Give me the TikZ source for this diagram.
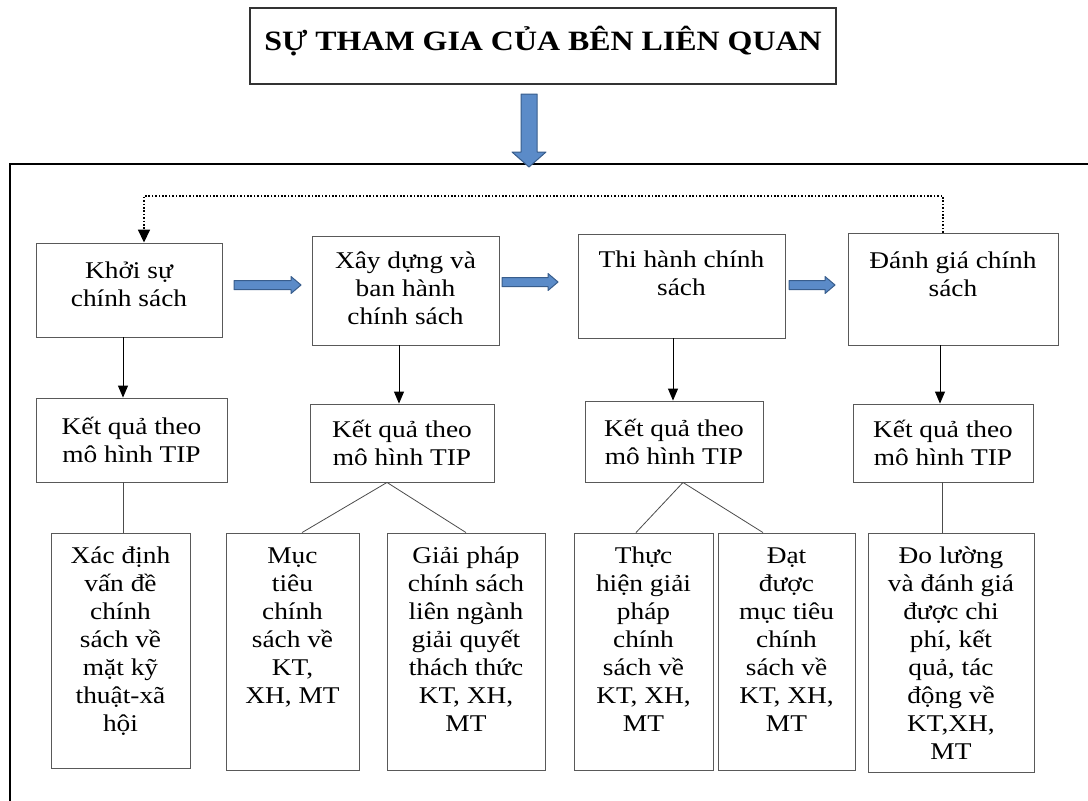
\documentclass[tikz,border=0pt]{standalone}
\usepackage{fontspec}
\setmainfont[FakeStretch=1.14]{Liberation Serif}
\usetikzlibrary{arrows.meta,calc}
\definecolor{bluefill}{RGB}{91,139,200}
\definecolor{blueline}{RGB}{56,93,140}
\newcommand\mystrut{\rule{0pt}{20pt}}
\newcommand\harrow[2]{\filldraw[blockarr] ($(#1)+(0,-4.5)$) -- ($(#2)+(-10,-4.5)$) -- ($(#2)+(-10,-8.5)$) -- (#2) -- ($(#2)+(-10,8.5)$) -- ($(#2)+(-10,4.5)$) -- ($(#1)+(0,4.5)$) -- cycle;}
\begin{document}
\begin{tikzpicture}[x=1pt,y=-1pt,
  box/.style={draw=black!65,line width=0.9pt,inner sep=0pt},
  txt/.style={align=center,inner sep=0pt,font=\fontsize{24}{28}\selectfont},
  blockarr/.style={fill=bluefill,draw=blueline,line width=1pt,line join=round},
  downarr/.style={draw=black,line width=0.9pt,-{Triangle[width=10pt,length=12pt]}},
  dotarr/.style={draw=black,line width=1.6pt,dash pattern=on 1.6pt off 1.8pt,-{Triangle[width=12pt,length=13pt]}},
  link/.style={draw=black!70,line width=0.8pt}]
\useasboundingbox (0,0) rectangle (1088,801);
\fill[white] (0,0) rectangle (1088,801);

% title
\node[draw=black!80,line width=1.4pt,inner sep=0pt,minimum width=586pt,minimum height=76pt] (title) at (543,46) {};
\node[font=\bfseries\fontsize{28}{32}\selectfont,inner sep=0pt] (titletext) at (543,41) {SỰ THAM GIA CỦA BÊN LIÊN QUAN};

% big frame
\draw[line width=2pt] (10,801) -- (10,164) -- (1088,164);

% big blue arrow
\coordinate (ba1) at (529,94);
\coordinate (ba2) at (529,167);
\filldraw[blockarr] ($(ba1)+(-8,0)$) -- ($(ba1)+(8,0)$) -- ($(ba2)+(8,-15)$) -- ($(ba2)+(17,-15)$) -- (ba2) -- ($(ba2)+(-17,-15)$) -- ($(ba2)+(-8,-15)$) -- cycle;

% row 1 boxes
\node[box,minimum width=186pt,minimum height=94pt] (b1) at (129,290) {};
\node[box,minimum width=187pt,minimum height=109pt] (b2) at (405.5,290.5) {};
\node[box,minimum width=207pt,minimum height=104pt] (b3) at (681.5,286) {};
\node[box,minimum width=210pt,minimum height=112pt] (b4) at (953,289) {};
\node[txt] (t1) at (129,284) {Khởi sự\\chính sách};
\node[txt] (t2) at (405.5,288) {Xây dựng và\\ban hành\\chính sách};
\node[txt] (t3) at (681.5,273) {Thi hành chính\\sách};
\node[txt] (t4) at (953,274) {Đánh giá chính\\sách};

% blue arrows between row 1 boxes
\coordinate (a1s) at (234,285); \coordinate (a1e) at (301,285);
\coordinate (a2s) at (502,282); \coordinate (a2e) at (558,282);
\coordinate (a3s) at (789,285); \coordinate (a3e) at (835,285);
\harrow{a1s}{a1e}
\harrow{a2s}{a2e}
\harrow{a3s}{a3e}

% dotted feedback
\coordinate (dx4) at (943,0);
\coordinate (dx1) at (144,0);
\coordinate (dy) at (0,196);
\draw[dotarr] (b4.north -| dx4) -- (dx4 |- dy) -- (dx1 |- dy) -- (b1.north -| dx1);

% row 2 boxes
\node[box,txt,draw=black!65,line width=0.9pt,minimum width=191pt,minimum height=84pt] (r1) at (131.5,440) {Kết quả theo\\mô hình TIP};
\node[box,txt,draw=black!65,line width=0.9pt,minimum width=184pt,minimum height=78pt] (r2) at (402,443) {Kết quả theo\\mô hình TIP};
\node[box,txt,draw=black!65,line width=0.9pt,minimum width=178pt,minimum height=81pt] (r3) at (674,441.5) {Kết quả theo\\mô hình TIP};
\node[box,txt,draw=black!65,line width=0.9pt,minimum width=180pt,minimum height=78pt] (r4) at (943,443) {Kết quả theo\\mô hình TIP};

% down arrows
\coordinate (x1) at (123,0);
\coordinate (x2) at (399,0);
\coordinate (x3) at (673,0);
\coordinate (x4) at (940,0);
\draw[downarr] (b1.south -| x1) -- (r1.north -| x1);
\draw[downarr] (b2.south -| x2) -- (r2.north -| x2);
\draw[downarr] (b3.south -| x3) -- (r3.north -| x3);
\draw[downarr] (b4.south -| x4) -- (r4.north -| x4);

% row 3 boxes
\node[box,minimum width=139pt,minimum height=235pt] (c1) at (120.5,650.5) {};
\node[box,minimum width=133pt,minimum height=237pt] (c2) at (292.5,651.5) {};
\node[box,minimum width=158pt,minimum height=237pt] (c3) at (466,651.5) {};
\node[box,minimum width=139pt,minimum height=237pt] (c4) at (643.5,651.5) {};
\node[box,minimum width=137pt,minimum height=237pt] (c5) at (786.5,651.5) {};
\node[box,minimum width=166pt,minimum height=239pt] (c6) at (951,652.5) {};
\node[txt,anchor=north] (u1) at (120.5,543) {\mystrut Xác định\\vấn đề\\chính\\sách về\\mặt kỹ\\thuật-xã\\hội};
\node[txt,anchor=north] (u2) at (292.5,543) {\mystrut Mục\\tiêu\\chính\\sách về\\KT,\\XH, MT};
\node[txt,anchor=north] (u3) at (466,543) {\mystrut Giải pháp\\chính sách\\liên ngành\\giải quyết\\thách thức\\KT, XH,\\MT};
\node[txt,anchor=north] (u4) at (643.5,543) {\mystrut Thực\\hiện giải\\pháp\\chính\\sách về\\KT, XH,\\MT};
\node[txt,anchor=north] (u5) at (786.5,543) {\mystrut Đạt\\được\\mục tiêu\\chính\\sách về\\KT, XH,\\MT};
\node[txt,anchor=north] (u6) at (951,543) {\mystrut Đo lường\\và đánh giá\\được chi\\phí, kết\\quả, tác\\động về\\KT,XH,\\MT};

% links row 2 -> row 3
\coordinate (p1) at (123,0);
\coordinate (p2) at (387,0); \coordinate (q2a) at (302,0); \coordinate (q2b) at (466,0);
\coordinate (p3) at (683,0); \coordinate (q3a) at (636,0); \coordinate (q3b) at (763,0);
\coordinate (p4) at (942,0);
\draw[link] (r1.south -| p1) -- (c1.north -| p1);
\draw[link] (r2.south -| p2) -- (c2.north -| q2a);
\draw[link] (r2.south -| p2) -- (c3.north -| q2b);
\draw[link] (r3.south -| p3) -- (c4.north -| q3a);
\draw[link] (r3.south -| p3) -- (c5.north -| q3b);
\draw[link] (r4.south -| p4) -- (c6.north -| p4);
\end{tikzpicture}
\end{document}
